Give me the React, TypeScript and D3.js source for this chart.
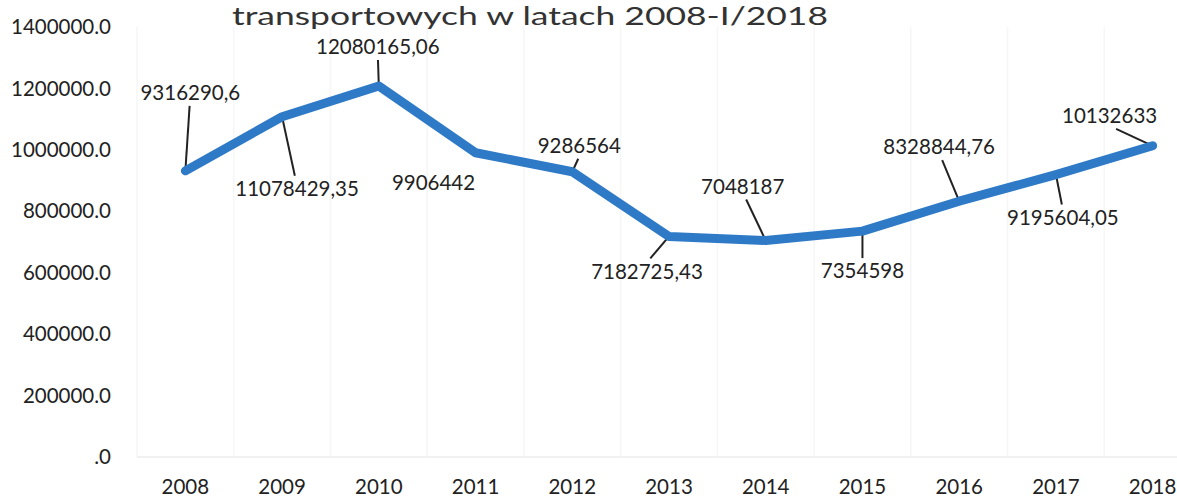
import React from "react";
import * as d3 from "d3";

const years = ["2008", "2009", "2010", "2011", "2012", "2013", "2014", "2015", "2016", "2017", "2018"];
const labels = ["9316290,6", "11078429,35", "12080165,06", "9906442", "9286564", "7182725,43", "7048187", "7354598", "8328844,76", "9195604,05", "10132633"];
// plotted values (axis scale)
const values = [931629, 1107843, 1208017, 990644, 928656, 718273, 704819, 735460, 832884, 919560, 1013263];
const yTicks = [0, 200000, 400000, 600000, 800000, 1000000, 1200000, 1400000];
const titleText = "transportowych w latach 2008-I/2018";

// label placement offsets (layout)
const labelOffsets: [number, number, boolean][] = [
  [5, -78, true],
  [15, 72, true],
  [-1, -39, true],
  [-42, 30, false],
  [7, -26, true],
  [-22, 35, true],
  [-23, -54, true],
  [0, 40, true],
  [-20, -54, true],
  [7, 43, true],
  [-43, -30, true],
];

const W = 1177;
const H = 500;
const FONT = "Lato, 'Open Sans', sans-serif";

export default function App() {
  const x = d3.scaleBand<string>().domain(years).range([137, 1201]);
  const y = d3.scaleLinear().domain([0, 1400000]).range([457, 27]);
  const cx = (d: string) => (x(d) as number) + x.bandwidth() / 2;
  const line = d3
    .line<number>()
    .x((_, i) => cx(years[i]))
    .y((v) => y(v));
  const fmt = (d: number) => (d === 0 ? ".0" : d.toFixed(1));

  return (
    <svg
      width={W}
      height={H}
      style={{ position: "fixed", left: 0, top: 0, background: "#fff" }}
      fontFamily={FONT}
    >
      <rect x={0} y={0} width={W} height={H} fill="#fff" />
      {/* faint vertical gridlines */}
      {years.map((d) => (
        <line key={"g" + d} x1={x(d) as number} x2={x(d) as number} y1={27} y2={457} stroke="#f6f6f6" strokeWidth={1.5} />
      ))}
      <line x1={137} x2={W} y1={y(0)} y2={y(0)} stroke="#ececec" strokeWidth={1.5} />
      {/* title */}
      <text x={232} y={25} fontSize={25} fill="#333" textLength={596} lengthAdjust="spacingAndGlyphs">
        {titleText}
      </text>
      {/* y axis labels */}
      {yTicks.map((t) => (
        <text key={"y" + t} x={111} y={y(t)} dy="0.35em" textAnchor="end" fontSize={20.5} fill="#222">
          {fmt(t)}
        </text>
      ))}
      {/* x axis labels */}
      {years.map((d) => (
        <text key={"x" + d} x={cx(d)} y={487} dy="0.35em" textAnchor="middle" fontSize={20.5} fill="#222">
          {d}
        </text>
      ))}
      {/* leader lines */}
      {years.map((d, i) => {
        const [dx, dy, show] = labelOffsets[i];
        if (!show) return null;
        const px = cx(d);
        const py = y(values[i]);
        const lx = px + dx;
        const ly = py + dy;
        const sy = ly + (dy < 0 ? 13 : -13);
        const sx = lx + (dx === 0 ? 0 : -dx * 0.15);
        return <line key={"l" + d} x1={sx} y1={sy} x2={px} y2={py} stroke="#222" strokeWidth={2} />;
      })}
      {/* series line */}
      <path d={line(values) || ""} fill="none" stroke="#2E7AC6" strokeWidth={9} strokeLinejoin="round" strokeLinecap="round" />
      {/* data labels */}
      {years.map((d, i) => {
        const [dx, dy] = labelOffsets[i];
        return (
          <text key={"t" + d} x={cx(d) + dx} y={y(values[i]) + dy} dy="0.35em" textAnchor="middle" fontSize={20.5} fill="#222">
            {labels[i]}
          </text>
        );
      })}
    </svg>
  );
}
